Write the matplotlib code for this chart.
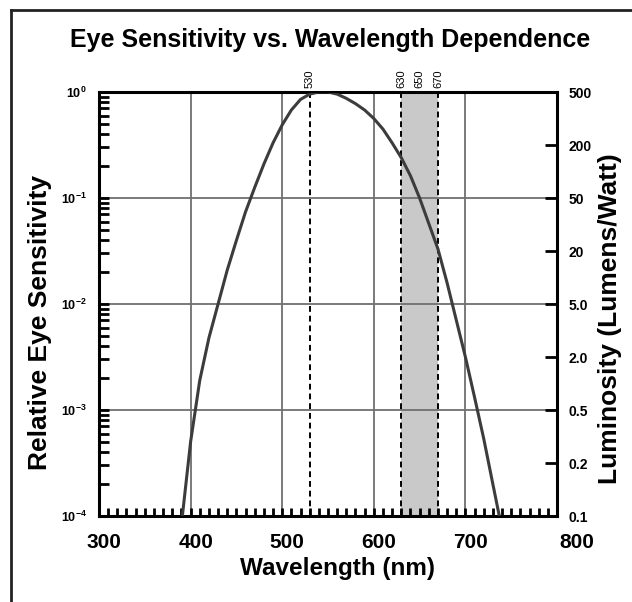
import numpy as np
import matplotlib
matplotlib.use("Agg")
import matplotlib.pyplot as plt
from matplotlib.lines import Line2D
from matplotlib.transforms import ScaledTranslation
from matplotlib.ticker import MultipleLocator, LogLocator, NullFormatter

plt.rcParams['font.family'] = ['Liberation Sans', 'DejaVu Sans']
plt.rcParams['font.weight'] = 'bold'
plt.rcParams['mathtext.fontset'] = 'custom'
plt.rcParams['mathtext.rm'] = 'Liberation Sans:bold'
plt.rcParams['mathtext.bf'] = 'Liberation Sans:bold'

# curve (wavelength nm, log10 of relative sensitivity)
wavelength = [391, 400, 410, 420, 430, 440, 450, 460, 470, 480, 490, 500, 510, 520,
              530, 540, 550, 560, 570, 580, 590, 600, 610, 620, 630, 640, 650, 660,
              670, 680, 690, 700, 710, 720, 730, 737]
log_sens = [-4.0, -3.3, -2.72, -2.32, -2.0, -1.68, -1.40, -1.13, -0.90, -0.68, -0.48,
            -0.31, -0.17, -0.07, -0.02, 0.0, 0.0, -0.02, -0.06, -0.11, -0.17, -0.25,
            -0.35, -0.48, -0.62, -0.79, -1.0, -1.24, -1.48, -1.8, -2.15, -2.5, -2.88,
            -3.27, -3.7, -4.0]
sens = 10.0 ** np.array(log_sens)

left_ticks = [1e0, 1e-1, 1e-2, 1e-3, 1e-4]
left_labels = [r'$10^{0}$', r'$10^{-1}$', r'$10^{-2}$', r'$10^{-3}$', r'$10^{-4}$']
lum_pos = [1.0, 0.316, 0.1, 0.0316, 0.01, 0.00316, 0.001, 0.000316, 0.0001]
lum_labels = ['500', '200', '50', '20', '5.0', '2.0', '0.5', '0.2', '0.1']
top_ticks = [530, 630, 650, 670]
peak_line = 530
band = [630, 670]

fig = plt.figure(figsize=(6.32, 6.02), dpi=100)
ax = fig.add_axes([99 / 632, 1 - 516 / 602, 458 / 632, 424 / 602])

ax.axvspan(band[0], band[1], color='#c9c9c9', lw=0, zorder=1)
for v in [peak_line] + band:
    ax.axvline(v, color='black', ls=(0, (3, 2)), lw=1.4, zorder=2)
for v in [400, 500, 600, 700]:
    ax.axvline(v, color='#707070', lw=1.3, zorder=1.5)
for h in [1e-1, 1e-2, 1e-3]:
    ax.axhline(h, color='#707070', lw=1.3, zorder=1.5)

ax.plot(wavelength, sens, color='#3c3c3c', lw=2.2, zorder=3)

ax.set_yscale('log')
ax.set_xlim(300, 800)
ax.set_ylim(1e-4, 1)
ax.set_xticks([300, 400, 500, 600, 700, 800])
ax.xaxis.set_minor_locator(MultipleLocator(10))
ax.set_yticks(left_ticks)
ax.set_yticklabels(left_labels, fontsize=9)
ax.yaxis.set_minor_locator(LogLocator(base=10, subs=np.arange(2, 10)))
ax.yaxis.set_minor_formatter(NullFormatter())
ax.tick_params(axis='x', which='major', direction='in', length=6, width=2,
               labelsize=15, pad=12, top=False)
ax.tick_params(axis='x', which='minor', direction='in', length=6, width=2, top=False)
ax.tick_params(axis='y', which='major', direction='in', length=7, width=2,
               pad=9, right=False)
ax.tick_params(axis='y', which='minor', direction='in', length=7, width=2, right=False)
for s in ax.spines.values():
    s.set_linewidth(2.2)

# the x tick labels sit a little right of their ticks in the original
for lab in ax.get_xticklabels():
    shift = 20 if lab.get_text() == '800' else 5
    lab.set_transform(lab.get_transform() + ScaledTranslation(shift / 100, 0, fig.dpi_scale_trans))

ax.set_xlabel('Wavelength (nm)', fontsize=17.5, fontweight='bold')
ax.xaxis.set_label_coords((337 - 99) / 458, (516 - 557) / 424)
ax.set_ylabel('Relative Eye Sensitivity', fontsize=19, fontweight='bold')
ax.yaxis.set_label_coords((52 - 99) / 458, (516 - 322) / 424)

ax2 = ax.twinx()
ax2.set_yscale('log')
ax2.set_ylim(1e-4, 1)
ax2.set_yticks(lum_pos)
ax2.set_yticklabels(lum_labels, fontsize=10)
ax2.yaxis.set_minor_locator(LogLocator(base=10, subs=[]))
ax2.tick_params(axis='y', which='major', direction='in', length=9, width=2, pad=8)
ax2.set_ylabel('Luminosity (Lumens/Watt)', fontsize=19, fontweight='bold')
ax2.yaxis.set_label_coords((598 - 99) / 458, (516 - 319) / 424)

ax3 = ax.twiny()
ax3.set_xlim(300, 800)
ax3.set_xticks(top_ticks)
ax3.set_xticklabels([str(t) for t in top_ticks], rotation=90, fontsize=8,
                    fontweight='normal')
ax3.tick_params(axis='x', length=0, pad=3)

fig.text(330 / 632, 1 - 40 / 602, 'Eye Sensitivity vs. Wavelength Dependence',
         ha='center', va='center', fontsize=18, fontweight='bold')

# outer frame (top and left edge only)
fig.add_artist(Line2D([11 / 632, 1], [1 - 10 / 602, 1 - 10 / 602],
                      transform=fig.transFigure, color='#222222', lw=2))
fig.add_artist(Line2D([11 / 632, 11 / 632], [0, 1 - 10 / 602],
                      transform=fig.transFigure, color='#222222', lw=2))

fig.savefig('out.png', dpi=100)
